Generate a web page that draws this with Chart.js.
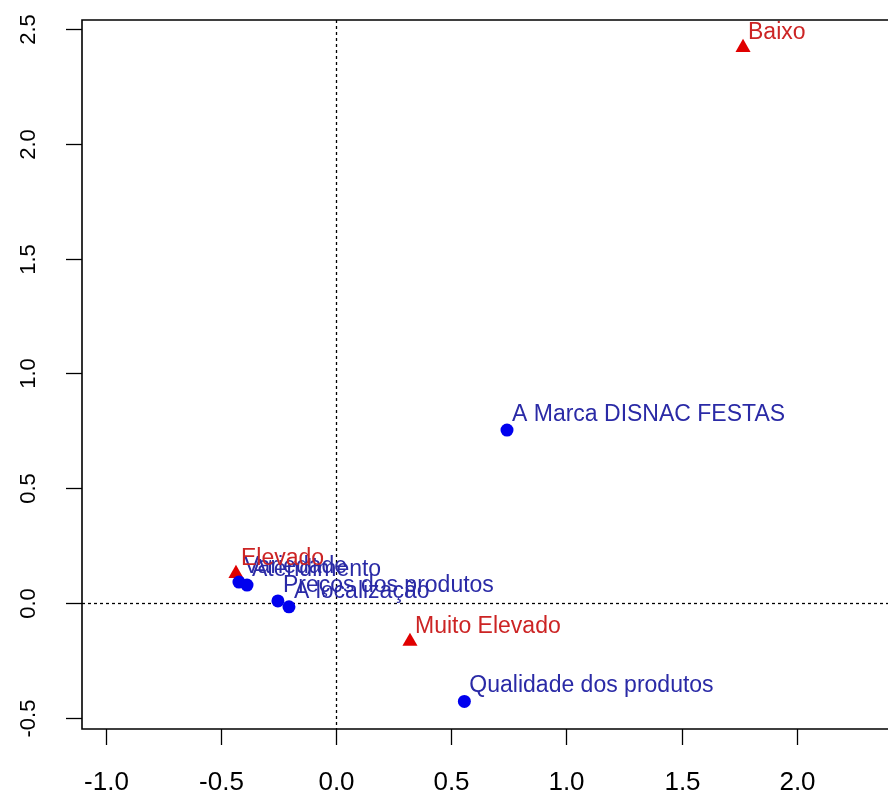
<!DOCTYPE html>
<html>
<head>
<meta charset="utf-8">
<script src="https://cdn.jsdelivr.net/npm/chart.js@4.4.1/dist/chart.umd.min.js"></script>
<style>
html,body{margin:0;padding:0;background:#fff;}
canvas{display:block;}
</style>
</head>
<body>
<canvas id="c" width="888" height="796"></canvas>
<script>
// Row categories (blue circles)
const rowLabels = ["A Marca DISNAC FESTAS", "Qualidade dos produtos", "Variedade", "Atendimento", "Preços dos produtos", "A localização"];
const rowX = [0.742, 0.557, -0.421, -0.386, -0.252, -0.204];
const rowY = [0.753, -0.429, 0.091, 0.078, 0.009, -0.017];
// Column categories (red triangles)
const colLabels = ["Baixo", "Elevado", "Muito Elevado"];
const colX = [1.766, -0.434, 0.321];
const colY = [2.419, 0.128, -0.168];
// Tick labels
const xTicks = [-1.0, -0.5, 0.0, 0.5, 1.0, 1.5, 2.0];
const yTicks = [-0.5, 0.0, 0.5, 1.0, 1.5, 2.0, 2.5];

const BLUE_PT = "#0000ee", RED_PT = "#e00000";
const BLUE_TX = "#2a2aa6", RED_TX = "#cc2424";
const FONT = '"Liberation Sans", Arial, sans-serif';

const decor = {
  id: "decor",
  beforeDatasetsDraw(chart) {
    const {ctx, chartArea: a, scales: {x, y}} = chart;
    ctx.save();
    ctx.strokeStyle = "#000";
    ctx.lineWidth = 1.3;
    ctx.setLineDash([3, 3]);
    const x0 = Math.round(x.getPixelForValue(0)) + 0.5;
    const y0 = Math.round(y.getPixelForValue(0)) + 0.5;
    ctx.beginPath(); ctx.moveTo(x0, a.top); ctx.lineTo(x0, a.bottom); ctx.stroke();
    ctx.beginPath(); ctx.moveTo(a.left, y0); ctx.lineTo(a.right + 5, y0); ctx.stroke();
    ctx.restore();
  },
  afterDatasetsDraw(chart) {
    const {ctx, chartArea: a, scales: {x, y}} = chart;
    ctx.save();
    // point labels
    ctx.font = "23px " + FONT;
    ctx.textAlign = "left";
    ctx.textBaseline = "alphabetic";
    const sets = [[0, rowLabels, BLUE_TX], [1, colLabels, RED_TX]];
    sets.forEach(([di, labels, col]) => {
      const meta = chart.getDatasetMeta(di);
      ctx.fillStyle = col;
      meta.data.forEach((el, i) => {
        ctx.fillText(labels[i], el.x + 5, el.y - 9);
      });
    });
    // box (left, top, bottom; right lies beyond the canvas)
    ctx.strokeStyle = "#000";
    ctx.lineWidth = 1.6;
    ctx.beginPath();
    ctx.moveTo(a.right + 5, a.top);
    ctx.lineTo(a.left, a.top);
    ctx.lineTo(a.left, a.bottom);
    ctx.lineTo(a.right + 5, a.bottom);
    ctx.stroke();
    // x ticks
    ctx.lineWidth = 1.3;
    ctx.fillStyle = "#000";
    ctx.font = "26px " + FONT;
    ctx.textAlign = "center";
    xTicks.forEach(v => {
      const px = Math.round(x.getPixelForValue(v)) + 0.5;
      ctx.beginPath(); ctx.moveTo(px, a.bottom); ctx.lineTo(px, a.bottom + 16); ctx.stroke();
      ctx.fillText(v.toFixed(1), px, a.bottom + 61);
    });
    // y ticks (rotated labels)
    ctx.font = "22px " + FONT;
    yTicks.forEach(v => {
      const py = Math.round(y.getPixelForValue(v)) + 0.5;
      ctx.beginPath(); ctx.moveTo(a.left, py); ctx.lineTo(a.left - 16, py); ctx.stroke();
      ctx.save();
      ctx.translate(a.left - 47, py);
      ctx.rotate(-Math.PI / 2);
      ctx.fillText(v.toFixed(1), 0, 0);
      ctx.restore();
    });
    ctx.restore();
  }
};

new Chart(document.getElementById("c"), {
  type: "scatter",
  data: {
    datasets: [
      {
        label: "rows",
        data: rowX.map((v, i) => ({x: v, y: rowY[i]})),
        pointStyle: "circle",
        pointRadius: 6.5,
        backgroundColor: BLUE_PT,
        borderColor: BLUE_PT,
        borderWidth: 0
      },
      {
        label: "cols",
        data: colX.map((v, i) => ({x: v, y: colY[i]})),
        pointStyle: "triangle",
        pointRadius: 8.7,
        backgroundColor: RED_PT,
        borderColor: RED_PT,
        borderWidth: 0
      }
    ]
  },
  options: {
    responsive: false,
    animation: false,
    devicePixelRatio: 1,
    layout: {autoPadding: false, padding: {left: 82, top: 20, right: 0, bottom: 67}},
    plugins: {legend: {display: false}, tooltip: {enabled: false}},
    scales: {
      x: {type: "linear", display: false, min: -1.102, max: 2.395},
      y: {type: "linear", display: false, min: -0.549, max: 2.539}
    }
  },
  plugins: [decor]
});
</script>
</body>
</html>
